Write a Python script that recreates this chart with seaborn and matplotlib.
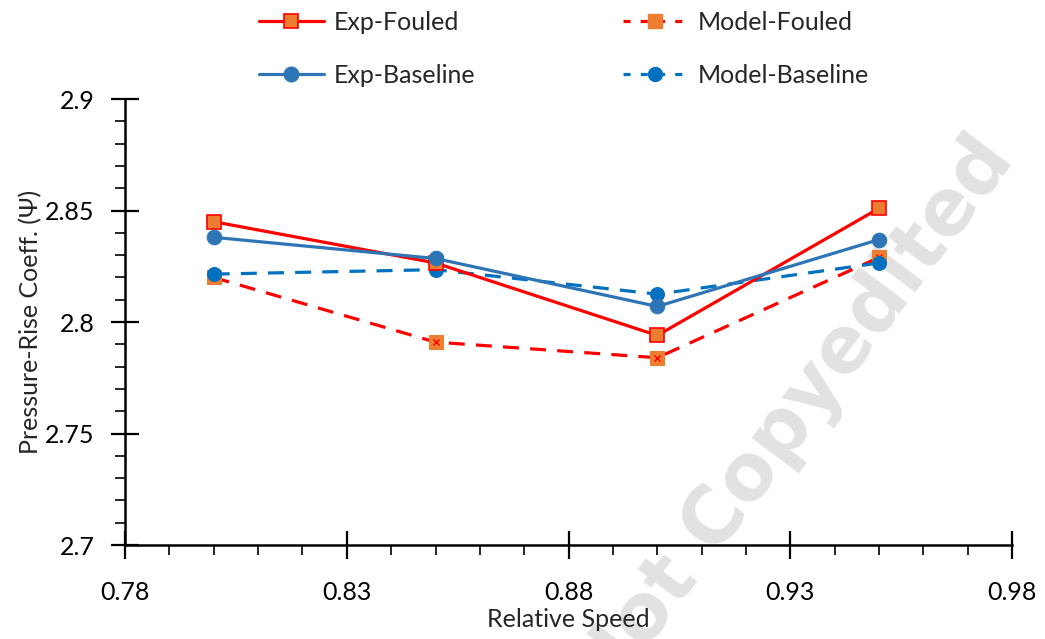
import numpy as np
import pandas as pd
import seaborn as sns
from matplotlib import pyplot as plt
from matplotlib.lines import Line2D
from matplotlib.ticker import MultipleLocator

# values
speed = [0.80, 0.85, 0.90, 0.95]
exp_fouled = [2.845, 2.8265, 2.794, 2.851]
exp_baseline = [2.838, 2.8285, 2.807, 2.837]
model_fouled = [2.820, 2.791, 2.784, 2.829]
model_baseline = [2.8215, 2.8235, 2.8125, 2.8265]

sns.set_style("white")
plt.rcParams['font.family'] = ['Lato', 'DejaVu Sans']

RED = "#FF0000"
ORANGE = "#ED7D31"
BLUE = "#2E75B6"
BLUE2 = "#0070C0"
FS = 18

fig = plt.figure(figsize=(10.45, 6.39), dpi=100)
ax = fig.add_axes([0.1196, 0.147, 0.849, 0.698])
ax.patch.set_alpha(0)

# model curves first (drawn underneath)
sns.lineplot(x=speed, y=model_fouled, ax=ax, color=RED, lw=2.3, linestyle=(0, (5, 3.5)),
             marker="s", markersize=9.5, markerfacecolor=ORANGE, markeredgecolor=ORANGE, zorder=2)
ax.plot(speed, model_fouled, ls="none", marker="x", ms=5, mec=RED, mew=1.0, zorder=2.1)
sns.lineplot(x=speed, y=model_baseline, ax=ax, color=BLUE2, lw=2.3, linestyle=(0, (5, 3.5)),
             marker="o", markersize=10, markerfacecolor=BLUE2, markeredgecolor=BLUE2, zorder=3)
sns.lineplot(x=speed, y=exp_fouled, ax=ax, color=RED, lw=2.3,
             marker="s", markersize=9.5, markerfacecolor=ORANGE, markeredgecolor=RED,
             markeredgewidth=1.2, zorder=4)
sns.lineplot(x=speed, y=exp_baseline, ax=ax, color=BLUE, lw=2.3,
             marker="o", markersize=10.5, markerfacecolor=BLUE, markeredgecolor=BLUE, zorder=5)

ax.set_xlim(0.78, 0.98)
ax.set_ylim(2.7, 2.9)
ax.set_xticks([0.78, 0.83, 0.88, 0.93, 0.98])
ax.set_xticklabels(["0.78", "0.83", "0.88", "0.93", "0.98"])
ax.set_yticks([2.7, 2.75, 2.8, 2.85, 2.9])
ax.set_yticklabels(["2.7", "2.75", "2.8", "2.85", "2.9"])
ax.xaxis.set_minor_locator(MultipleLocator(0.01))
ax.yaxis.set_minor_locator(MultipleLocator(0.01))
ax.tick_params(which="major", direction="inout", length=20, width=1.6, labelsize=FS,
               bottom=True, left=True, colors="black")
ax.tick_params(which="minor", direction="out", length=7, width=1.4, bottom=True, left=True)
ax.tick_params(axis="x", which="major", pad=16)
ax.tick_params(axis="y", which="major", pad=12)

for side in ["top", "right"]:
    ax.spines[side].set_visible(False)
for side in ["left", "bottom"]:
    ax.spines[side].set_linewidth(1.8)
    ax.spines[side].set_color("black")

ax.set_xlabel("Relative Speed", fontsize=FS, labelpad=3)
ax.set_ylabel("Pressure-Rise Coeff. (Ψ)", fontsize=FS, labelpad=2)

# watermark, behind the axes
fig.text(0.76, 0.345, "Not Copyedited", fontsize=56, fontweight="bold", color="#E2E2E2",
         rotation=53, ha="center", va="center", zorder=-1, family="DejaVu Sans")

handles = [
    Line2D([], [], color=RED, lw=2.3, marker="s", ms=9.5, mfc=ORANGE, mec=RED, mew=1.2),
    Line2D([], [], color=BLUE, lw=2.3, marker="o", ms=10.5, mfc=BLUE, mec=BLUE),
    Line2D([], [], color=RED, lw=2.3, ls=(0, (2.2, 3.2)), marker="s", ms=9.5, mfc=ORANGE, mec=ORANGE),
    Line2D([], [], color=BLUE2, lw=2.3, ls=(0, (2.2, 3.2)), marker="o", ms=10, mfc=BLUE2, mec=BLUE2),
]
labels = ["Exp-Fouled", "Exp-Baseline", "Model-Fouled", "Model-Baseline"]
fig.legend(handles, labels, ncol=2, loc="upper left", bbox_to_anchor=(0.226, 1.018),
           frameon=False, fontsize=FS, handlelength=2.6, handletextpad=0.4,
           columnspacing=5.9, labelspacing=1.2)

fig.savefig("out.png", dpi=100)
